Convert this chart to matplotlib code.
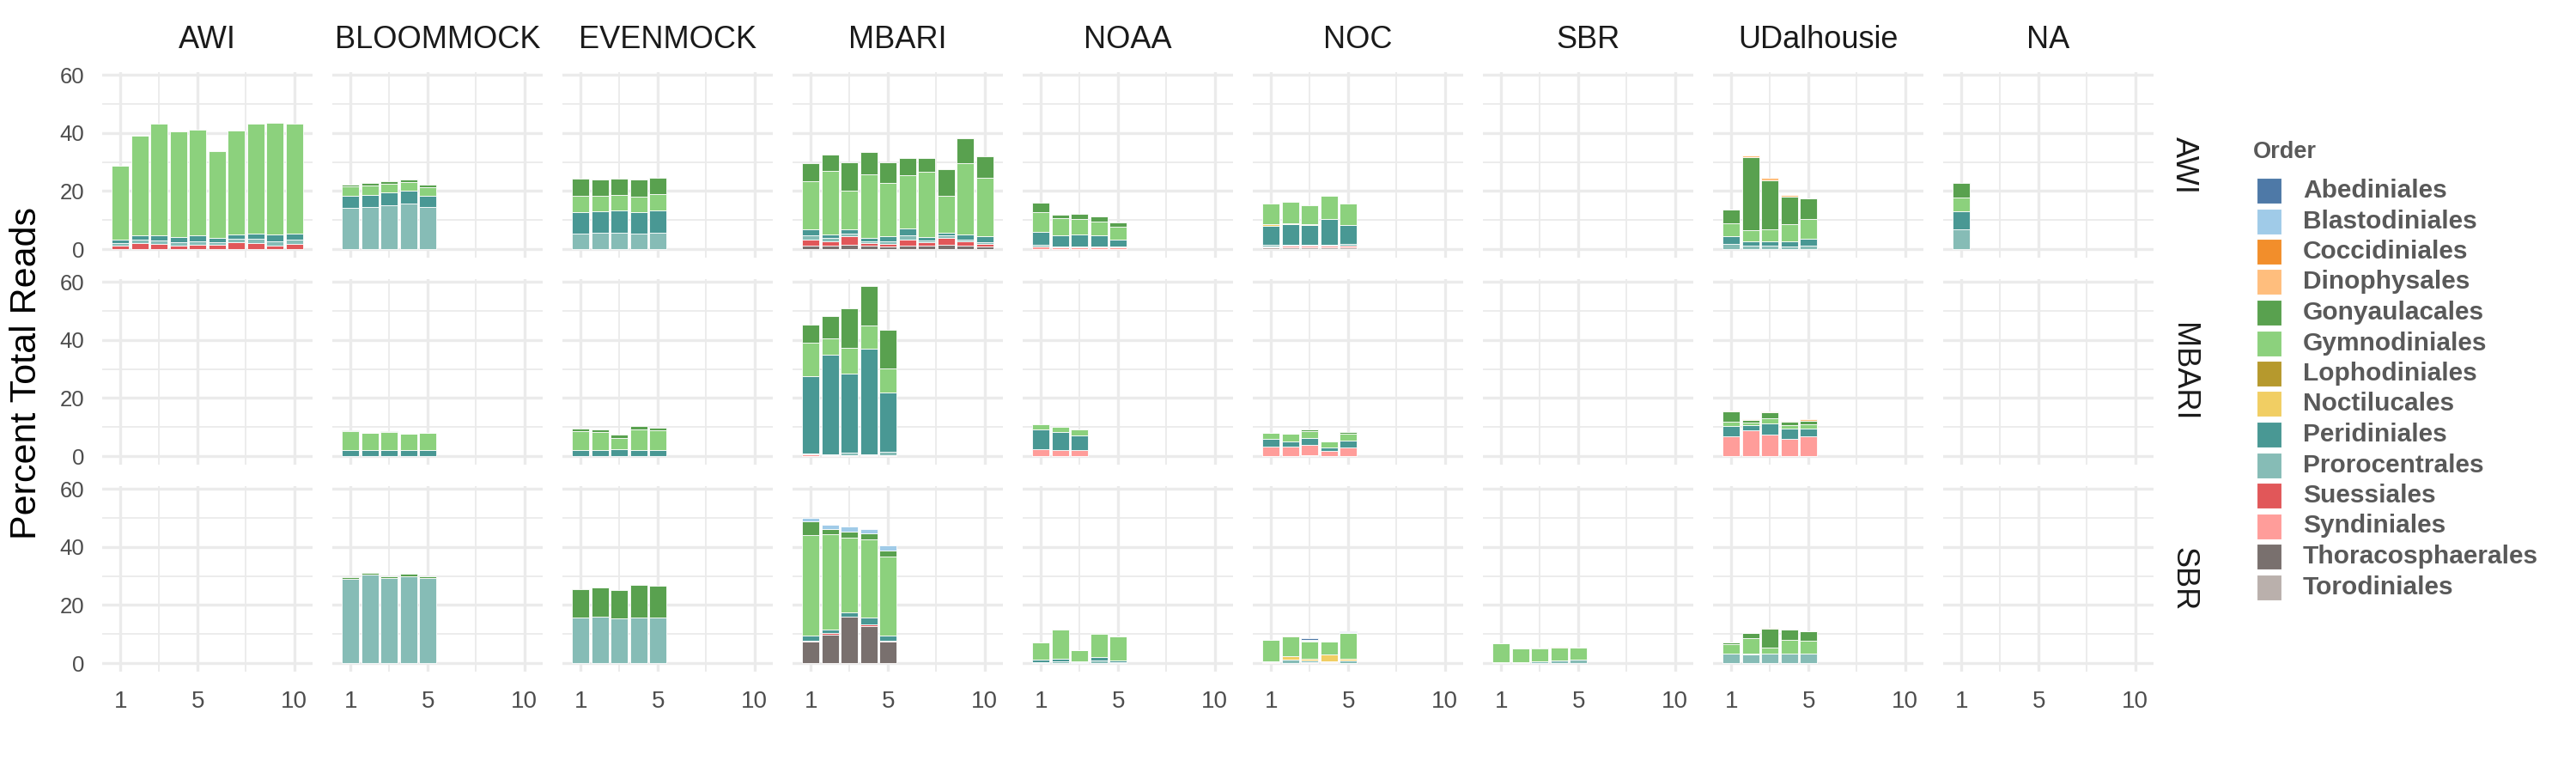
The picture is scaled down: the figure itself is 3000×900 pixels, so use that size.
import numpy as np
import matplotlib.pyplot as plt
from matplotlib.patches import Rectangle

plt.rcParams['font.family'] = ['Liberation Sans', 'DejaVu Sans']

# ============================================
# DATA
# ============================================
orders = ["Abediniales", "Blastodiniales", "Coccidiniales", "Dinophysales",
          "Gonyaulacales", "Gymnodiniales", "Lophodiniales", "Noctilucales",
          "Peridiniales", "Prorocentrales", "Suessiales", "Syndiniales",
          "Thoracosphaerales", "Torodiniales"]
colors = ["#4E79A7", "#A0CBE8", "#F28E2B", "#FFBE7D", "#59A14F", "#8CD17D",
          "#B6992D", "#F1CE63", "#499894", "#86BCB6", "#E15759", "#FF9D9A",
          "#79706E", "#BAB0AC"]

cols = ["AWI", "BLOOMMOCK", "EVENMOCK", "MBARI", "NOAA", "NOC", "SBR", "UDalhousie", "NA"]
rows = ["AWI", "MBARI", "SBR"]

# --- row AWI ---
awi_awi = {
    "Suessiales": [1.3, 2.1, 1.7, 1.1, 1.5, 1.5, 2.5, 2.1, 1.3, 1.8],
    "Prorocentrales": [0.8, 1.1, 1.2, 1.2, 1.3, 0.9, 1.0, 1.4, 1.5, 1.4],
    "Peridiniales": [1.3, 1.6, 1.9, 2.0, 2.0, 1.4, 1.5, 2.0, 2.2, 2.1],
    "Gymnodiniales": [25.4, 34.3, 38.5, 36.2, 36.4, 30.0, 35.8, 37.8, 38.5, 38.0],
}
awi_bloom = {
    "Prorocentrales": [14.2, 14.6, 15.2, 15.8, 14.6],
    "Peridiniales": [4.1, 4.1, 4.3, 4.3, 3.9],
    "Gymnodiniales": [3.3, 3.3, 3.1, 3.1, 2.9],
    "Gonyaulacales": [0.7, 0.8, 0.7, 0.7, 0.8],
}
awi_even = {
    "Prorocentrales": [5.4, 5.7, 5.7, 5.3, 5.7],
    "Peridiniales": [7.4, 7.3, 7.6, 7.6, 7.7],
    "Gymnodiniales": [5.6, 5.4, 5.3, 5.3, 5.5],
    "Gonyaulacales": [5.8, 5.5, 5.6, 5.8, 5.6],
}
awi_mbari = {
    "Thoracosphaerales": [1.3, 1.1, 1.5, 1.1, 0.9, 1.3, 1.1, 1.5, 1.1, 0.9],
    "Suessiales": [2.0, 1.7, 2.9, 0.9, 1.0, 2.1, 1.4, 2.3, 1.7, 1.0],
    "Prorocentrales": [1.4, 1.0, 1.0, 0.6, 0.7, 1.4, 0.6, 0.9, 0.6, 0.4],
    "Peridiniales": [2.0, 1.2, 1.3, 1.4, 1.9, 2.2, 1.1, 1.1, 1.8, 2.1],
    "Gymnodiniales": [16.8, 21.9, 13.3, 21.7, 18.3, 18.5, 22.5, 12.5, 24.5, 20.1],
    "Gonyaulacales": [6.1, 5.5, 10.0, 7.7, 7.2, 5.8, 4.6, 9.3, 8.4, 7.6],
}
awi_noaa = {
    "Syndiniales": [0.9, 0.6, 0.5, 0.5, 0.5],
    "Prorocentrales": [0.5, 0.4, 0.4, 0.3, 0.3],
    "Peridiniales": [4.5, 3.8, 4.3, 3.9, 2.5],
    "Gymnodiniales": [6.9, 5.9, 5.1, 4.7, 4.4],
    "Gonyaulacales": [3.2, 1.1, 1.8, 1.8, 1.6],
}
awi_noc = {
    "Torodiniales": [0.6, 0.6, 0.6, 0.6, 0.5],
    "Syndiniales": [0.4, 0.5, 0.5, 0.5, 0.8],
    "Prorocentrales": [0.5, 0.3, 0.3, 0.5, 0.4],
    "Peridiniales": [6.5, 7.3, 7.0, 8.7, 6.6],
    "Noctilucales": [0.5, 0.3, 0.3, 0.2, 0.0],
    "Gymnodiniales": [7.2, 7.3, 6.4, 7.8, 7.4],
}
awi_udal = {
    "Prorocentrales": [1.9, 1.3, 1.2, 0.9, 1.3],
    "Peridiniales": [2.6, 1.3, 1.6, 1.7, 2.2],
    "Gymnodiniales": [4.5, 3.9, 4.0, 5.9, 6.8],
    "Gonyaulacales": [4.7, 25.1, 16.9, 9.7, 7.2],
    "Dinophysales": [0.0, 0.6, 0.8, 0.4, 0.0],
}
awi_na = {
    "Prorocentrales": [6.9],
    "Peridiniales": [6.2],
    "Gymnodiniales": [4.7],
    "Gonyaulacales": [4.9],
}

# --- row MBARI ---
mbari_bloom = {
    "Peridiniales": [2.1, 2.1, 2.2, 2.1, 2.1],
    "Gymnodiniales": [6.5, 5.9, 6.2, 5.6, 5.9],
    "Gonyaulacales": [0.3, 0.0, 0.3, 0.0, 0.0],
}
mbari_even = {
    "Peridiniales": [2.2, 2.1, 2.3, 2.2, 2.2],
    "Gymnodiniales": [6.5, 6.2, 4.1, 7.0, 6.7],
    "Gonyaulacales": [0.9, 0.9, 0.9, 1.1, 1.0],
}
mbari_mbari = {
    "Syndiniales": [0.5, 0.3, 0.4, 0.3, 0.4],
    "Prorocentrales": [0.5, 0.3, 0.8, 0.3, 1.0],
    "Peridiniales": [26.6, 34.2, 27.2, 36.4, 20.6],
    "Gymnodiniales": [11.4, 5.8, 8.8, 8.0, 8.2],
    "Gonyaulacales": [6.3, 7.7, 13.6, 13.5, 13.2],
}
mbari_noaa = {
    "Syndiniales": [2.3, 2.0, 2.1],
    "Peridiniales": [6.9, 6.2, 4.9],
    "Gymnodiniales": [1.8, 1.9, 2.2],
}
mbari_noc = {
    "Torodiniales": [0.0, 0.0, 0.3, 0.0, 0.0],
    "Syndiniales": [3.3, 3.3, 3.5, 1.7, 3.0],
    "Peridiniales": [2.7, 1.9, 2.6, 1.4, 2.4],
    "Gymnodiniales": [2.0, 2.4, 2.3, 1.9, 2.4],
    "Gonyaulacales": [0.0, 0.0, 0.4, 0.0, 0.5],
}
mbari_udal = {
    "Syndiniales": [6.9, 8.9, 7.4, 5.9, 6.7],
    "Peridiniales": [3.6, 1.8, 3.8, 3.5, 2.7],
    "Gymnodiniales": [1.3, 0.9, 1.9, 1.3, 1.5],
    "Gonyaulacales": [3.6, 0.9, 1.9, 1.1, 1.4],
    "Dinophysales": [0.4, 0.2, 0.4, 0.3, 0.4],
}

# --- row SBR ---
sbr_bloom = {
    "Prorocentrales": [29.0, 30.5, 29.4, 30.0, 29.3],
    "Gonyaulacales": [0.7, 0.5, 0.5, 0.7, 0.6],
}
sbr_even = {
    "Prorocentrales": [15.8, 15.9, 15.4, 15.7, 15.6],
    "Gonyaulacales": [9.7, 10.2, 9.7, 11.2, 11.1],
}
sbr_mbari = {
    "Thoracosphaerales": [7.3, 9.7, 16.0, 12.8, 7.3],
    "Suessiales": [0.4, 0.6, 0.0, 0.4, 0.4],
    "Peridiniales": [1.8, 1.3, 1.4, 2.5, 1.8],
    "Gymnodiniales": [34.6, 32.7, 25.8, 26.9, 27.3],
    "Gonyaulacales": [4.6, 1.8, 2.1, 2.1, 1.8],
    "Blastodiniales": [1.2, 1.6, 1.8, 1.5, 1.8],
}
sbr_noaa = {
    "Prorocentrales": [0.4, 0.5, 0.3, 0.8, 0.4],
    "Peridiniales": [0.8, 0.9, 0.3, 1.2, 0.5],
    "Gymnodiniales": [5.9, 10.2, 3.9, 8.1, 8.2],
    "Gonyaulacales": [0.0, 0.0, 0.0, 0.4, 0.0],
}
sbr_noc = {
    "Syndiniales": [0.3, 0.2, 0.3, 0.3, 0.2],
    "Prorocentrales": [0.3, 1.0, 0.6, 0.3, 0.6],
    "Noctilucales": [0.0, 1.2, 0.6, 2.4, 0.6],
    "Gymnodiniales": [7.3, 6.8, 6.0, 4.3, 8.9],
    "Gonyaulacales": [0.0, 0.0, 0.3, 0.0, 0.0],
    "Dinophysales": [0.0, 0.3, 0.0, 0.0, 0.0],
    "Blastodiniales": [0.0, 0.0, 0.3, 0.0, 0.3],
    "Abediniales": [0.0, 0.0, 0.4, 0.0, 0.3],
}
sbr_sbr = {
    "Prorocentrales": [0.3, 0.3, 0.5, 0.9, 1.1],
    "Gymnodiniales": [6.6, 4.7, 4.7, 4.6, 4.2],
    "Gonyaulacales": [0.0, 0.0, 0.3, 0.0, 0.0],
    "Dinophysales": [0.0, 0.0, 0.0, 0.2, 0.0],
}
sbr_udal = {
    "Syndiniales": [0.0, 0.0, 0.2, 0.0, 0.0],
    "Prorocentrales": [3.2, 3.0, 3.0, 3.2, 3.2],
    "Peridiniales": [0.0, 0.2, 0.0, 0.0, 0.0],
    "Gymnodiniales": [3.3, 5.3, 2.1, 4.8, 4.5],
    "Gonyaulacales": [0.5, 1.8, 6.7, 3.5, 3.2],
    "Dinophysales": [0.0, 0.0, 0.2, 0.1, 0.0],
}

panels = {
    ("AWI", "AWI"): awi_awi, ("AWI", "BLOOMMOCK"): awi_bloom,
    ("AWI", "EVENMOCK"): awi_even, ("AWI", "MBARI"): awi_mbari,
    ("AWI", "NOAA"): awi_noaa, ("AWI", "NOC"): awi_noc,
    ("AWI", "UDalhousie"): awi_udal, ("AWI", "NA"): awi_na,
    ("MBARI", "BLOOMMOCK"): mbari_bloom, ("MBARI", "EVENMOCK"): mbari_even,
    ("MBARI", "MBARI"): mbari_mbari, ("MBARI", "NOAA"): mbari_noaa,
    ("MBARI", "NOC"): mbari_noc, ("MBARI", "UDalhousie"): mbari_udal,
    ("SBR", "BLOOMMOCK"): sbr_bloom, ("SBR", "EVENMOCK"): sbr_even,
    ("SBR", "MBARI"): sbr_mbari, ("SBR", "NOAA"): sbr_noaa,
    ("SBR", "NOC"): sbr_noc, ("SBR", "SBR"): sbr_sbr,
    ("SBR", "UDalhousie"): sbr_udal,
}

color_of = dict(zip(orders, colors))
stack_order = orders[::-1]   # ggplot stacks first level on top

# ============================================
# FIGURE / LAYOUT (pixel units -> figure fractions)
# ============================================
W, H = 3000, 900
fig = plt.figure(figsize=(30, 9), dpi=100)

col_left0, col_w, col_step = 119, 245, 268
row_top0, row_h, row_step = 84, 216, 241

grid_col = "#EBEBEB"
tick_col = "#4D4D4D"

for r, rname in enumerate(rows):
    for c, cname in enumerate(cols):
        left = col_left0 + c * col_step
        top = row_top0 + r * row_step
        ax = fig.add_axes([left / W, 1 - (top + row_h) / H, col_w / W, row_h / H])
        ax.set_xlim(0.055, 10.945)
        ax.set_ylim(-2.9, 60.9)

        # grid (theme_minimal style)
        for yv in [0, 20, 40, 60]:
            ax.axhline(yv, color=grid_col, lw=2.4, zorder=0)
        for yv in [10, 30, 50]:
            ax.axhline(yv, color=grid_col, lw=1.3, zorder=0)
        for xv in [1, 5, 10]:
            ax.axvline(xv, color=grid_col, lw=2.4, zorder=0)
        for xv in [3, 7.5]:
            ax.axvline(xv, color=grid_col, lw=1.3, zorder=0)

        data = panels.get((rname, cname))
        if data:
            n = len(next(iter(data.values())))
            x = np.arange(1, n + 1)
            bottom = np.zeros(n)
            for o in stack_order:
                if o not in data:
                    continue
                v = np.array(data[o])
                ax.bar(x, v, width=0.9, bottom=bottom, color=color_of[o],
                       edgecolor="white", linewidth=0.6, zorder=2)
                bottom += v

        for s in ax.spines.values():
            s.set_visible(False)
        ax.tick_params(length=0)
        ax.set_yticks([0, 20, 40, 60])
        ax.set_xticks([1, 5, 10])
        if c == 0:
            ax.tick_params(axis="y", labelsize=18.5, labelcolor=tick_col, pad=15)
        else:
            ax.set_yticklabels([])
        if r == len(rows) - 1:
            ax.tick_params(axis="x", labelsize=20, labelcolor=tick_col, pad=16)
        else:
            ax.set_xticklabels([])

        if r == 0:
            fig.text((left + col_w / 2) / W, 1 - 47 / H, cname, ha="center",
                     va="center", fontsize=26, color="#1A1A1A")
    fig.text(2543 / W, 1 - (row_top0 + r * row_step + row_h / 2) / H, rname,
             rotation=-90, ha="center", va="center", fontsize=26, color="#1A1A1A")

# y axis title
fig.text(31 / W, 1 - 435 / H, "Percent Total Reads", rotation=90,
         ha="center", va="center", fontsize=31, color="black")

# ============================================
# LEGEND (drawn by hand)
# ============================================
leg_col = "#595959"
fig.text(2624 / W, 1 - 177 / H, "Order", ha="left", va="center",
         fontsize=19.5, fontweight="bold", color=leg_col)
for i, (o, colr) in enumerate(zip(orders, colors)):
    yc = 222 + i * 35.5
    fig.add_artist(Rectangle((2628 / W, 1 - (yc + 15) / H), 29 / W, 30 / H,
                             transform=fig.transFigure, facecolor=colr,
                             edgecolor="white", linewidth=0.8))
    fig.text(2682 / W, 1 - yc / H, o, ha="left", va="center",
             fontsize=21.5, fontweight="bold", color=leg_col)

fig.savefig("out.png", dpi=100, facecolor="white")
